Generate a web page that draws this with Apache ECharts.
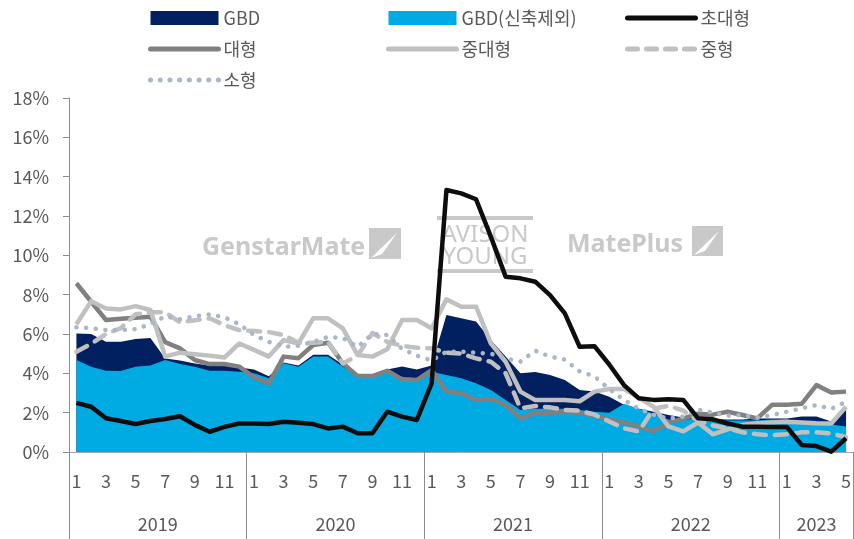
<!DOCTYPE html>
<html><head><meta charset="utf-8">
<script src="https://cdn.jsdelivr.net/npm/echarts@6/dist/echarts.min.js"></script>
<style>html,body{margin:0;padding:0;background:#fff}#c{width:854px;height:539px}</style>
</head><body><div id="c"></div>
<script>
// ---- data ----
const years = ['2019','2020','2021','2022','2023'];
const monthsPerYear = [12,12,12,12,5];
const months = [
 '2019-1','2019-2','2019-3','2019-4','2019-5','2019-6','2019-7','2019-8','2019-9','2019-10','2019-11','2019-12',
 '2020-1','2020-2','2020-3','2020-4','2020-5','2020-6','2020-7','2020-8','2020-9','2020-10','2020-11','2020-12',
 '2021-1','2021-2','2021-3','2021-4','2021-5','2021-6','2021-7','2021-8','2021-9','2021-10','2021-11','2021-12',
 '2022-1','2022-2','2022-3','2022-4','2022-5','2022-6','2022-7','2022-8','2022-9','2022-10','2022-11','2022-12',
 '2023-1','2023-2','2023-3','2023-4','2023-5'
];
const yTicks = [0,2,4,6,8,10,12,14,16,18];

const gbd = [6.03,6.0,5.6,5.6,5.75,5.8,4.75,4.65,4.5,4.4,4.4,4.3,
 4.2,3.85,4.55,4.4,4.95,4.95,4.45,3.95,3.95,4.2,4.35,4.2,
 4.4,6.97,6.8,6.63,5.69,4.85,4.0,4.07,3.91,3.66,3.15,3.07,
 2.81,2.4,2.2,2.05,1.88,1.75,1.78,1.68,1.65,1.65,1.7,1.7,
 1.7,1.8,1.8,1.55,2.2];
const gbdExNew = [4.68,4.34,4.13,4.12,4.34,4.4,4.68,4.47,4.34,4.13,4.13,4.08,
 4.0,3.75,4.51,4.34,4.85,4.85,4.34,3.83,3.83,4.08,3.83,3.75,
 4.08,3.91,3.75,3.49,3.15,2.64,2.14,2.2,2.2,2.2,2.14,2.05,
 2.0,2.45,2.2,1.95,1.65,1.6,1.75,1.55,1.6,1.6,1.6,1.65,
 1.65,1.55,1.5,1.4,1.3];
const xlarge = [2.5,2.3,1.72,1.58,1.42,1.58,1.68,1.82,1.38,1.03,1.28,1.45,
 1.45,1.42,1.54,1.49,1.42,1.2,1.29,0.95,0.95,2.05,1.8,1.63,
 3.49,13.32,13.15,12.85,10.95,8.91,8.83,8.66,7.98,7.05,5.35,5.38,
 4.45,3.4,2.73,2.65,2.68,2.65,1.71,1.66,1.45,1.29,1.29,1.27,
 1.27,0.36,0.3,0.02,0.7];
const large = [8.58,7.64,6.71,6.78,6.83,6.88,5.59,5.27,4.68,4.47,4.47,4.34,
 3.8,3.49,4.85,4.77,5.44,5.56,4.51,3.86,3.86,4.13,3.69,3.66,
 4.17,3.07,3.0,2.64,2.71,2.39,1.71,2.0,2.0,2.05,2.0,1.85,
 1.65,1.5,1.3,1.05,1.5,1.7,1.95,1.9,2.05,1.88,1.71,2.4,
 2.4,2.45,3.4,3.02,3.07];
const midLarge = [6.5,7.67,7.3,7.25,7.42,7.22,4.85,5.05,4.97,4.9,4.8,5.52,
 5.19,4.85,5.69,5.52,6.8,6.8,6.29,4.93,4.85,5.22,6.71,6.71,
 6.29,7.76,7.39,7.39,5.52,4.59,3.07,2.64,2.64,2.64,2.58,3.07,
 3.2,3.2,2.75,2.3,1.3,1.05,1.5,0.9,1.15,1.37,1.46,1.5,
 1.54,1.5,1.46,1.45,2.3];
const mid = [5.1,5.5,6.0,6.3,7.0,7.1,7.1,6.6,6.7,6.8,6.45,6.2,
 6.15,6.1,5.95,5.55,5.55,5.6,4.5,4.9,6.05,5.6,5.4,5.3,
 5.27,5.05,5.0,4.76,4.59,4.0,2.22,2.34,2.27,2.14,2.1,1.9,
 1.55,1.2,1.05,2.2,2.35,2.1,1.6,1.35,1.2,1.0,0.9,0.85,
 0.9,1.0,1.0,0.95,0.75];
const small = [6.34,6.3,6.2,6.2,6.25,6.5,6.9,6.75,6.9,7.0,6.85,6.5,
 5.95,5.6,5.35,5.4,5.6,5.85,5.8,5.35,6.0,5.95,5.25,4.9,
 4.65,5.1,5.1,5.05,5.0,4.75,4.6,5.15,4.85,4.7,4.1,3.85,
 3.2,2.64,2.2,1.9,1.7,1.8,2.15,2.0,1.85,1.88,1.75,1.88,
 2.05,2.22,2.39,2.19,2.56];

// year boundaries / centres derived from months per year
const yearBounds = [0]; const yearCenters = [];
monthsPerYear.forEach(n => { const s = yearBounds[yearBounds.length-1]; yearCenters.push(s + n/2); yearBounds.push(s + n); });

const FF = "'Noto Sans CJK KR','Noto Sans',sans-serif";
const TXT = '#595959';
const C = {gbd:'#002060', ex:'#00ABE3', xl:'#0d0d0d', l:'#808080', ml:'#c0c0c0', m:'#c0c0c0', s:'#aab6cb'};
const DASH = [12,9], DOT = [0.1,9.6];
const chart = echarts.init(document.getElementById('c'), null, {renderer:'canvas'});

const legendCommon = {orient:'vertical', top:9, padding:0, itemWidth:68, itemHeight:14, itemGap:13, itemTextGap:8,
  textStyle:{fontSize:18, color:TXT, fontFamily:FF}, selectedMode:false};
function lineItem(name, color, type, cap){
  return {name, itemStyle:{opacity:0}, lineStyle:{color, width:5, type, cap:cap, opacity:1}};
}
function rectItem(name){ return {name, icon:'rect', itemStyle:{opacity:1}}; }

function lineSeries(name, data, color, type, cap){
  return {name, type:'line', data, symbol:'none', smooth:false, z:3,
    lineStyle:{color, width:4.5, type, cap:cap||'butt', join:'round'}, itemStyle:{color}};
}

const wm = '#c9c9c9';
chart.setOption({
  animation:false,
  grid:{left:69, top:98, width:791, height:354, containLabel:false},
  legend:[
    Object.assign({}, legendCommon, {left:148, data:[rectItem('GBD'), lineItem('대형',C.l,'solid','round'), lineItem('소형',C.s,DOT,'round')]}),
    Object.assign({}, legendCommon, {left:386, data:[rectItem('GBD(신축제외)'), lineItem('중대형',C.ml,'solid','round')]}),
    Object.assign({}, legendCommon, {left:625, data:[lineItem('초대형',C.xl,'solid','round'), lineItem('중형',C.m,[10,9],'round')]})
  ],
  xAxis:[
    {type:'category', data:months, boundaryGap:true, position:'bottom',
     axisLine:{show:true, onZero:false, lineStyle:{color:'#a6a6a6', width:1}},
     axisTick:{show:false},
     axisLabel:{interval:1, fontSize:18, color:TXT, fontFamily:FF, margin:20,
       formatter:v => v.split('-')[1]}},
    {type:'value', min:0, max:yearBounds[yearBounds.length-1], position:'bottom',
     axisLine:{show:false}, splitLine:{show:false},
     axisTick:{show:true, customValues:yearBounds, length:90, lineStyle:{color:'#8c8c8c', width:1}},
     axisLabel:{show:true, customValues:yearCenters, fontSize:18, color:TXT, fontFamily:FF, margin:63,
       formatter:v => { const k = yearCenters.indexOf(v); return k>=0 ? years[k] : ''; }}}
  ],
  yAxis:{type:'value', min:yTicks[0], max:yTicks[yTicks.length-1], interval:2,
    axisLine:{show:true, onZero:false, lineStyle:{color:'#8c8c8c', width:1}},
    axisTick:{show:true, length:6, lineStyle:{color:'#8c8c8c'}},
    splitLine:{show:false},
    axisLabel:{formatter:'{value}%', fontSize:18, color:TXT, fontFamily:FF, margin:20}},
  graphic:[
    {type:'text', z:0, x:202, y:248, style:{text:'GenstarMate', fontSize:25, fontWeight:'bold', fontFamily:"'Noto Sans',sans-serif", fill:wm, align:'left', verticalAlign:'middle', textAlign:'left', textVerticalAlign:'middle'}},
    {type:'polygon', z:0, shape:{points:[[369,228],[401,228],[401,259],[369,259]]}, style:{fill:wm}},
    {type:'polygon', z:0, shape:{points:[[371,258],[397,233],[382,254]]}, style:{fill:'#fff'}},
    {type:'rect', z:0, shape:{x:437,y:216,width:96,height:4}, style:{fill:wm}},
    {type:'rect', z:0, shape:{x:437,y:269,width:96,height:4}, style:{fill:wm}},
    {type:'text', z:0, x:485, y:235, style:{text:'AVISON', fontSize:24, fontFamily:"'Noto Sans',sans-serif", fill:wm, align:'center', verticalAlign:'middle', textAlign:'center', textVerticalAlign:'middle'}},
    {type:'text', z:0, x:485, y:257, style:{text:'YOUNG', fontSize:24, fontFamily:"'Noto Sans',sans-serif", fill:wm, align:'center', verticalAlign:'middle', textAlign:'center', textVerticalAlign:'middle'}},
    {type:'text', z:0, x:567, y:245, style:{text:'MatePlus', fontSize:25, fontWeight:'bold', fontFamily:"'Noto Sans',sans-serif", fill:wm, align:'left', verticalAlign:'middle', textAlign:'left', textVerticalAlign:'middle'}},
    {type:'polygon', z:0, shape:{points:[[692,226],[723,226],[723,256],[692,256]]}, style:{fill:wm}},
    {type:'polygon', z:0, shape:{points:[[694,255],[719,231],[705,251]]}, style:{fill:'#fff'}}
  ],
  series:[
    {name:'GBD', type:'line', data:gbd, symbol:'none', z:1, lineStyle:{width:0}, itemStyle:{color:C.gbd},
     areaStyle:{color:C.gbd, opacity:1}},
    {name:'GBD(신축제외)', type:'line', data:gbdExNew, symbol:'none', z:1, lineStyle:{width:0}, itemStyle:{color:C.ex},
     areaStyle:{color:C.ex, opacity:1}},
    lineSeries('대형', large, C.l, 'solid'),
    lineSeries('중대형', midLarge, C.ml, 'solid'),
    lineSeries('중형', mid, C.m, DASH, 'round'),
    lineSeries('소형', small, C.s, DOT, 'round'),
    lineSeries('초대형', xlarge, C.xl, 'solid')
  ]
});
</script></body></html>
